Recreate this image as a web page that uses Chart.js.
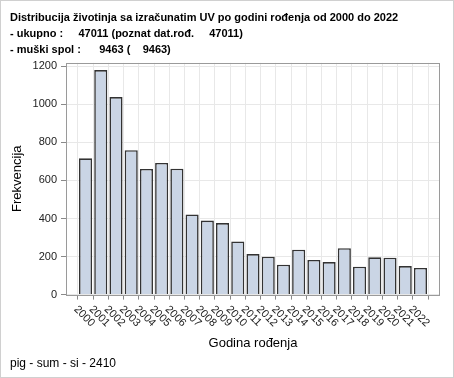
<!DOCTYPE html>
<html lang="hr">
<head>
<meta charset="utf-8"/>
<title>Distribucija životinja</title>
<script src="https://cdn.jsdelivr.net/npm/chart.js"></script>
<style>
  html, body { margin: 0; padding: 0; background: #fff; }
  #wrap { width: 454px; height: 378px; position: relative; }
</style>
</head>
<body>
<div id="wrap"><canvas id="chart" width="454" height="378"></canvas></div>
<script>
const titleLines = [
  'Distribucija životinja sa izračunatim UV po godini rođenja od 2000 do 2022',
  '- ukupno :     47011 (poznat dat.rođ.     47011)',
  '- muški spol :      9463 (    9463)'
];
const footerText = 'pig - sum - si - 2410';
const xTitle = 'Godina rođenja';
const yTitle = 'Frekvencija';

const years = ['2000','2001','2002','2003','2004','2005','2006','2007','2008','2009','2010','2011',
               '2012','2013','2014','2015','2016','2017','2018','2019','2020','2021','2022'];
const counts = [716, 1180, 1038, 759, 660, 692, 662, 421, 389, 376, 279, 213,
                199, 157, 236, 182, 171, 244, 147, 196, 194, 150, 140];
const yTicks = [0, 200, 400, 600, 800, 1000, 1200];

const FONT = 'Arial, "Liberation Sans", sans-serif';

// frame around the plot, outer border, rotated year labels
const decor = {
  id: 'decor',
  beforeDraw(chart) {
    const c = chart.ctx;
    c.save();
    c.fillStyle = '#fff';
    c.fillRect(0, 0, chart.width, chart.height);
    c.restore();
  },
  afterDraw(chart) {
    const c = chart.ctx, a = chart.chartArea, x = chart.scales.x;
    c.save();
    c.strokeStyle = '#9a9a9a';
    c.lineWidth = 1;
    c.strokeRect(Math.round(a.left) + 0.5, Math.round(a.top) + 0.5,
                 Math.round(a.right - a.left) - 1, Math.round(a.bottom - a.top));
    c.strokeStyle = '#d0d0d0';
    c.strokeRect(0.5, 0.5, chart.width - 1, chart.height - 1);

    c.fillStyle = '#222';
    c.font = '11px ' + FONT;
    c.textAlign = 'left';
    c.textBaseline = 'middle';
    years.forEach((y, i) => {
      const px = x.getPixelForValue(i);
      c.save();
      c.translate(px - 10, a.bottom + 13);
      c.rotate(Math.PI / 4);
      c.fillText(y, 0, 0);
      c.restore();
    });
    c.restore();
  }
};

new Chart(document.getElementById('chart'), {
  type: 'bar',
  data: {
    datasets: [{
      data: counts.map((v, i) => ({ x: i, y: v })),
      backgroundColor: '#cad5e5',
      borderColor: '#333',
      borderWidth: 1.6,
      barPercentage: 0.86,
      categoryPercentage: 1
    }]
  },
  plugins: [decor],
  options: {
    responsive: false,
    animation: false,
    layout: { padding: { left: 10, right: 14, top: 0, bottom: 2 } },
    plugins: {
      legend: { display: false },
      tooltip: { enabled: false },
      title: {
        display: true,
        text: titleLines,
        align: 'start',
        color: '#000',
        font: { family: FONT, size: 11, weight: 'bold', lineHeight: 1.45 },
        padding: { top: 10, bottom: 5 }
      },
      subtitle: {
        display: true,
        position: 'bottom',
        text: footerText,
        align: 'start',
        color: '#000',
        font: { family: FONT, size: 12, lineHeight: 1.45 },
        padding: { top: 0, bottom: 4 }
      }
    },
    scales: {
      x: {
        type: 'linear',
        min: -0.75,
        max: 22.75,
        afterBuildTicks: s => { s.ticks = years.map((_, i) => ({ value: i })); },
        afterFit: s => { s.height = 60; },
        ticks: { display: false },
        grid: { color: '#e8e8e8', tickColor: '#8a8a8a', tickLength: 5, drawTicks: true },
        border: { display: false },
        title: {
          display: true, text: xTitle, color: '#000',
          font: { family: FONT, size: 13 }, padding: { top: 0, bottom: 3 }
        }
      },
      y: {
        min: 0,
        max: 1218,
        afterBuildTicks: s => { s.ticks = yTicks.map(v => ({ value: v })); },
        afterFit: s => { s.width = 56; },
        ticks: { color: '#222', font: { family: FONT, size: 11 }, padding: 4, callback: v => String(v) },
        grid: { color: '#e8e8e8', tickColor: '#8a8a8a', tickLength: 5 },
        border: { display: false },
        title: {
          display: true, text: yTitle, color: '#000',
          font: { family: FONT, size: 13 }, padding: { top: 0, bottom: 0 }
        }
      }
    }
  }
});
</script>
</body>
</html>
